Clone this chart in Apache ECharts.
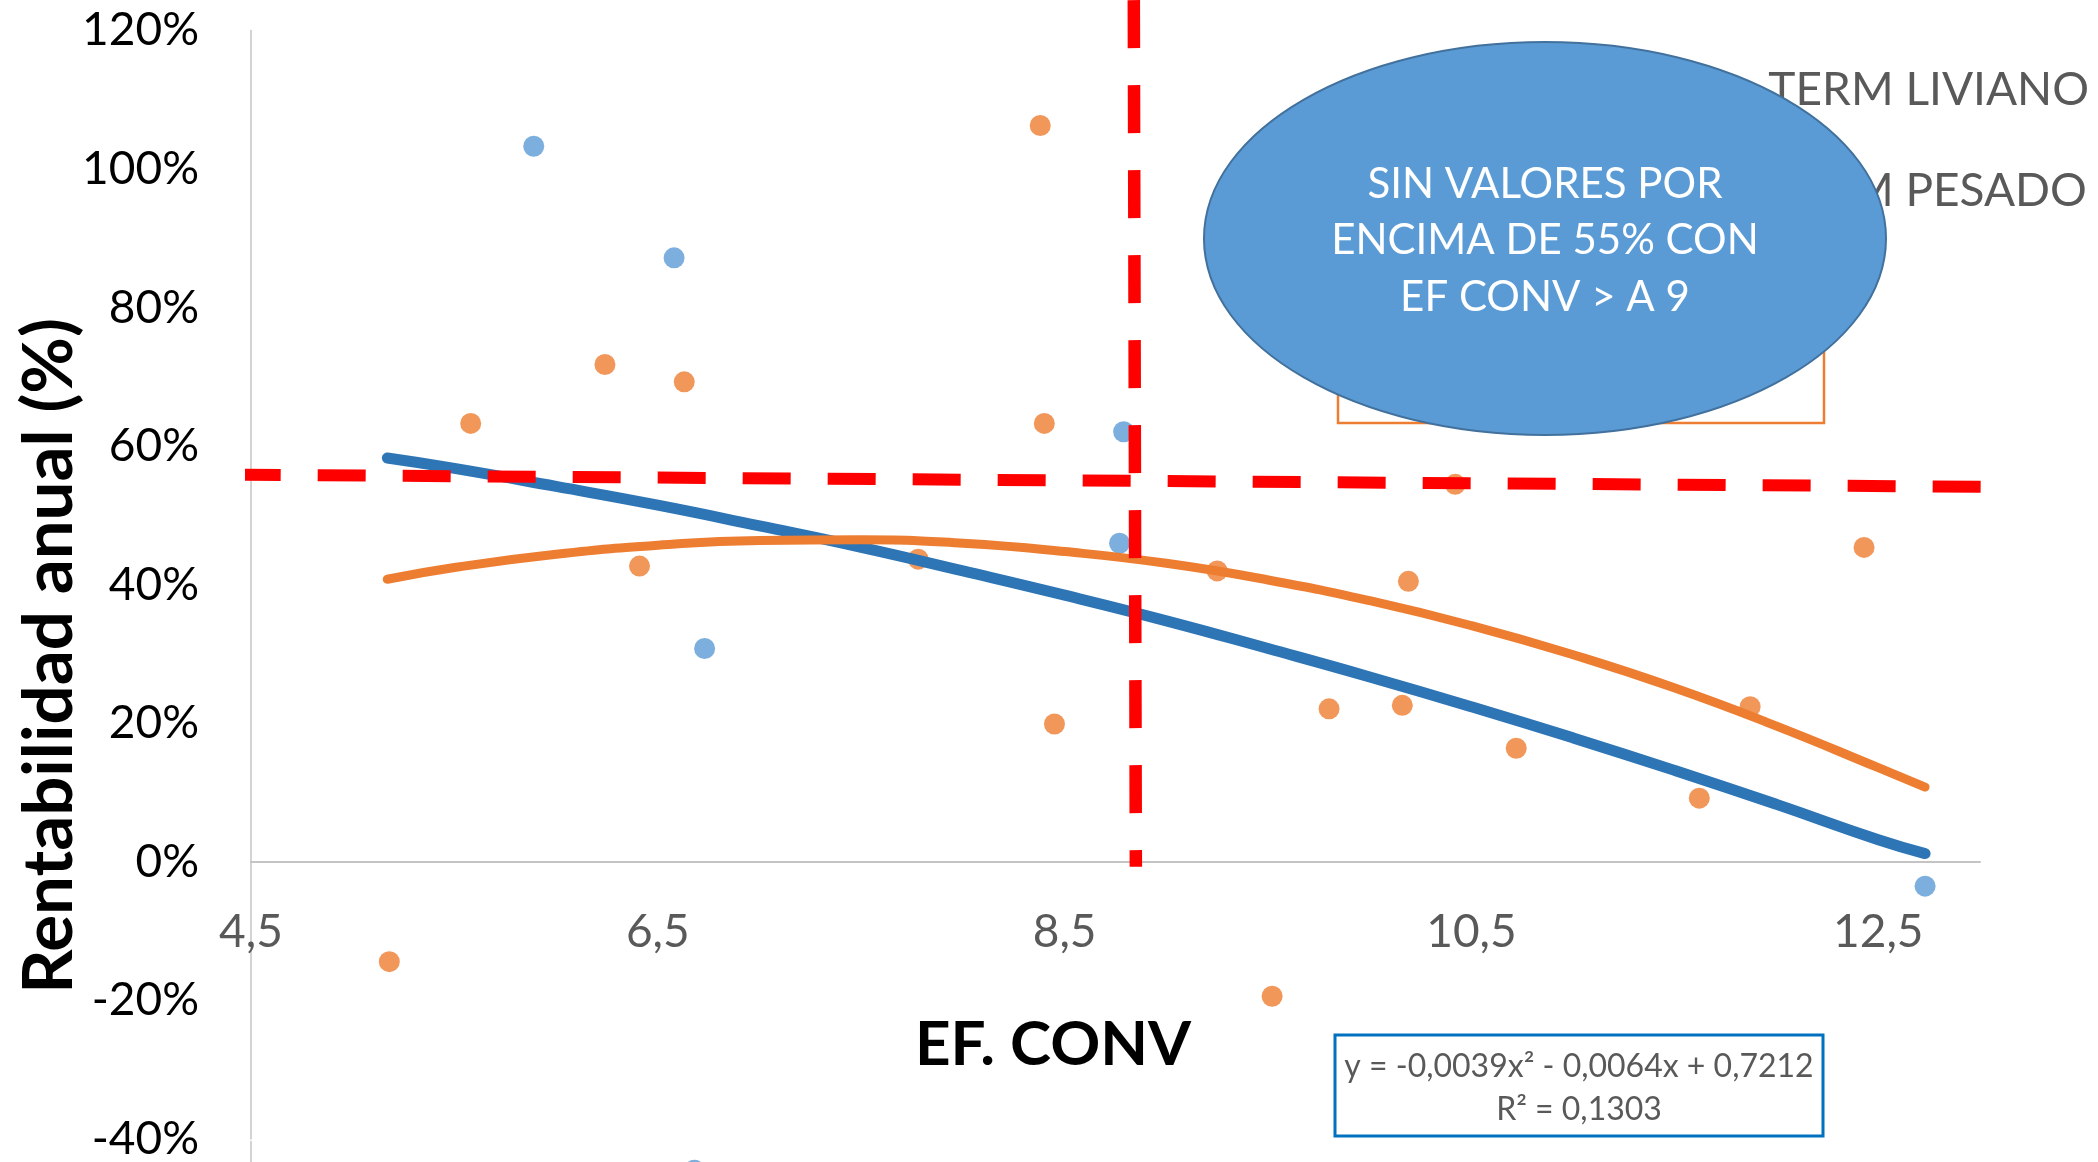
<!DOCTYPE html>
<html>
<head>
<meta charset="utf-8">
<title>Rentabilidad anual vs EF. CONV</title>
<script src="https://cdn.jsdelivr.net/npm/echarts@6/dist/echarts.min.js"></script>
<style>
  html, body { margin: 0; padding: 0; background: #fff; }
  #chart { width: 2098px; height: 1162px; }
</style>
</head>
<body>
<div id="chart"></div>
<script>
// puntos (x = EF. CONV, y = rentabilidad en %)
const livianoX = [5.89, 6.58, 6.73, 8.79, 8.77, 12.73, 6.68]
const livianoY = [103.3, 87.2, 30.8, 62.1, 46.0, -3.5, -44.5]
const pesadoX = [5.18, 5.58, 6.24, 6.41, 6.63, 7.78, 8.38, 8.40, 8.45, 9.25, 9.52, 9.80, 10.16, 10.19, 10.42, 10.72, 11.62, 11.87, 12.43]
const pesadoY = [-14.4, 63.3, 71.8, 42.7, 69.3, 43.7, 106.3, 63.3, 19.9, 42.0, -19.4, 22.1, 22.6, 40.5, 54.5, 16.4, 9.2, 22.4, 45.4]

// lineas de tendencia (polinomicas), leidas punto a punto sobre la curva
const trendX = [5.17, 5.5, 6, 6.5, 7, 7.5, 8, 8.5, 9, 9.5, 10, 10.5, 11, 11.5, 12, 12.5, 12.73]
const trendLivianoY = [58.3, 56.8, 54.2, 51.5, 48.5, 45.4, 42.0, 38.5, 34.8, 30.8, 26.7, 22.4, 17.9, 13.2, 8.3, 3.2, 1.2]
const trendPesadoY = [40.8, 42.5, 44.4, 45.7, 46.4, 46.5, 46.0, 44.8, 43.1, 40.7, 37.7, 34.1, 29.9, 25.1, 19.6, 13.6, 10.8]

// lineas rojas de corte dibujadas a mano
const corteHorizX = [4.41, 13.27]
const corteHorizY = [55.9, 54.1]
const corteVertX = [8.84, 8.85]
const corteVertY = [124.4, -0.7]

const xTicks = [4.5, 6.5, 8.5, 10.5, 12.5]
const seriesNames = ['TERM LIVIANO', 'TERM PESADO']
const notaLineas = ['SIN VALORES POR', 'ENCIMA DE 55% CON', 'EF CONV > A 9']
const ecuacion = ['y = -0,0039x\u00b2 - 0,0064x + 0,7212', 'R\u00b2 = 0,1303']

const zip = (xs, ys) => xs.map((x, i) => [x, ys[i]])

const chart = echarts.init(document.getElementById('chart'))
const FONT = 'Lato'

const option = {
  animation: false,
  backgroundColor: '#fff',
  grid: { left: 251, right: 118, top: 30.6, bottom: 21 },
  legend: {
    data: seriesNames,
    orient: 'vertical',
    right: 4,
    top: 60,
    itemGap: 51,
    itemWidth: 20,
    itemHeight: 20,
    icon: 'circle',
    textStyle: { fontFamily: FONT, fontSize: 46, lineHeight: 50, color: '#595959', padding: [0, 0, 0, 20] }
  },
  xAxis: {
    type: 'value',
    min: 4.5,
    max: 13,
    interval: 2,
    // el eje x cruza en 0 %
    offset: -277.6,
    splitLine: { show: false },
    axisTick: { show: false },
    axisLine: { onZero: false, lineStyle: { color: '#C4C4C4', width: 2 } },
    axisLabel: {
      customValues: xTicks,
      fontFamily: FONT,
      fontSize: 46,
      color: '#595959',
      margin: 48,
      formatter: v => String(v).replace('.', ',')
    }
  },
  yAxis: {
    type: 'value',
    min: -40,
    max: 120,
    interval: 20,
    splitLine: { show: false },
    axisTick: { show: false },
    axisLine: { show: true, onZero: false, lineStyle: { color: '#C4C4C4', width: 1.5 } },
    axisLabel: { fontFamily: FONT, fontSize: 46, color: '#000', margin: 52, formatter: '{value}%' }
  },
  series: [
    {
      name: seriesNames[0],
      type: 'scatter',
      data: zip(livianoX, livianoY),
      symbolSize: 21,
      clip: false,
      itemStyle: { color: '#5B9BD5' },
      z: 2
    },
    {
      name: seriesNames[1],
      type: 'scatter',
      data: zip(pesadoX, pesadoY),
      symbolSize: 21,
      itemStyle: { color: '#ED7D31' },
      z: 2
    },
    {
      name: 'Polinómica (TERM LIVIANO)',
      type: 'line',
      data: zip(trendX, trendLivianoY),
      smooth: true,
      symbol: 'none',
      lineStyle: { color: '#2E75B6', width: 11, cap: 'round' },
      z: 3
    },
    {
      name: 'Polinómica (TERM PESADO)',
      type: 'line',
      data: zip(trendX, trendPesadoY),
      smooth: true,
      symbol: 'none',
      lineStyle: { color: '#ED7D31', width: 9, cap: 'round' },
      z: 3
    },
    {
      name: 'corte horizontal',
      type: 'line',
      data: zip(corteHorizX, corteHorizY),
      symbol: 'none',
      clip: false,
      lineStyle: { color: '#FF0000', width: 12, type: [48, 37], cap: 'butt' },
      z: 5
    },
    {
      name: 'corte vertical',
      type: 'line',
      data: zip(corteVertX, corteVertY),
      symbol: 'none',
      clip: false,
      lineStyle: { color: '#FF0000', width: 12.5, type: [48, 37], cap: 'butt' },
      z: 5
    }
  ],
  graphic: [
    {
      // el eje y continua hasta el borde inferior recortado
      type: 'line',
      z: 1,
      shape: { x1: 251, y1: 1141, x2: 251, y2: 1162 },
      style: { stroke: '#C4C4C4', lineWidth: 1.5 }
    },
    {
      type: 'text',
      x: 50,
      y: 656,
      rotation: Math.PI / 2,
      z: 50,
      style: {
        text: 'Rentabilidad anual (%)',
        font: 'bold 69px Lato',
        fill: '#000',
        textAlign: 'center',
        textVerticalAlign: 'middle'
      }
    },
    {
      type: 'text',
      x: 1053,
      y: 1045,
      z: 50,
      style: {
        text: 'EF. CONV',
        font: 'bold 62px Lato',
        fill: '#000',
        textAlign: 'center',
        textVerticalAlign: 'middle'
      }
    },
    {
      type: 'rect',
      z: 90,
      shape: { x: 1338, y: 322, width: 486, height: 101 },
      style: { fill: '#fff', stroke: '#ED7D31', lineWidth: 2.5 }
    },
    {
      type: 'ellipse',
      z: 100,
      shape: { cx: 1545, cy: 238.5, rx: 341, ry: 196.5 },
      style: { fill: '#5B9BD5', stroke: '#41719C', lineWidth: 2 }
    },
    ...notaLineas.map((t, i) => ({
      type: 'text',
      x: 1545,
      y: 184 + i * 56.5,
      z: 101,
      style: { text: t, font: '42px Lato', fill: '#fff', textAlign: 'center', textVerticalAlign: 'middle' }
    })),
    {
      type: 'rect',
      z: 90,
      shape: { x: 1335, y: 1035, width: 488, height: 101 },
      style: { fill: '#fff', stroke: '#0070C0', lineWidth: 3 }
    },
    ...ecuacion.map((t, i) => ({
      type: 'text',
      x: 1579,
      y: 1067 + i * 43,
      z: 91,
      style: { text: t, font: '32px Lato', fill: '#595959', textAlign: 'center', textVerticalAlign: 'middle' }
    }))
  ]
}

chart.setOption(option)
</script>
</body>
</html>
